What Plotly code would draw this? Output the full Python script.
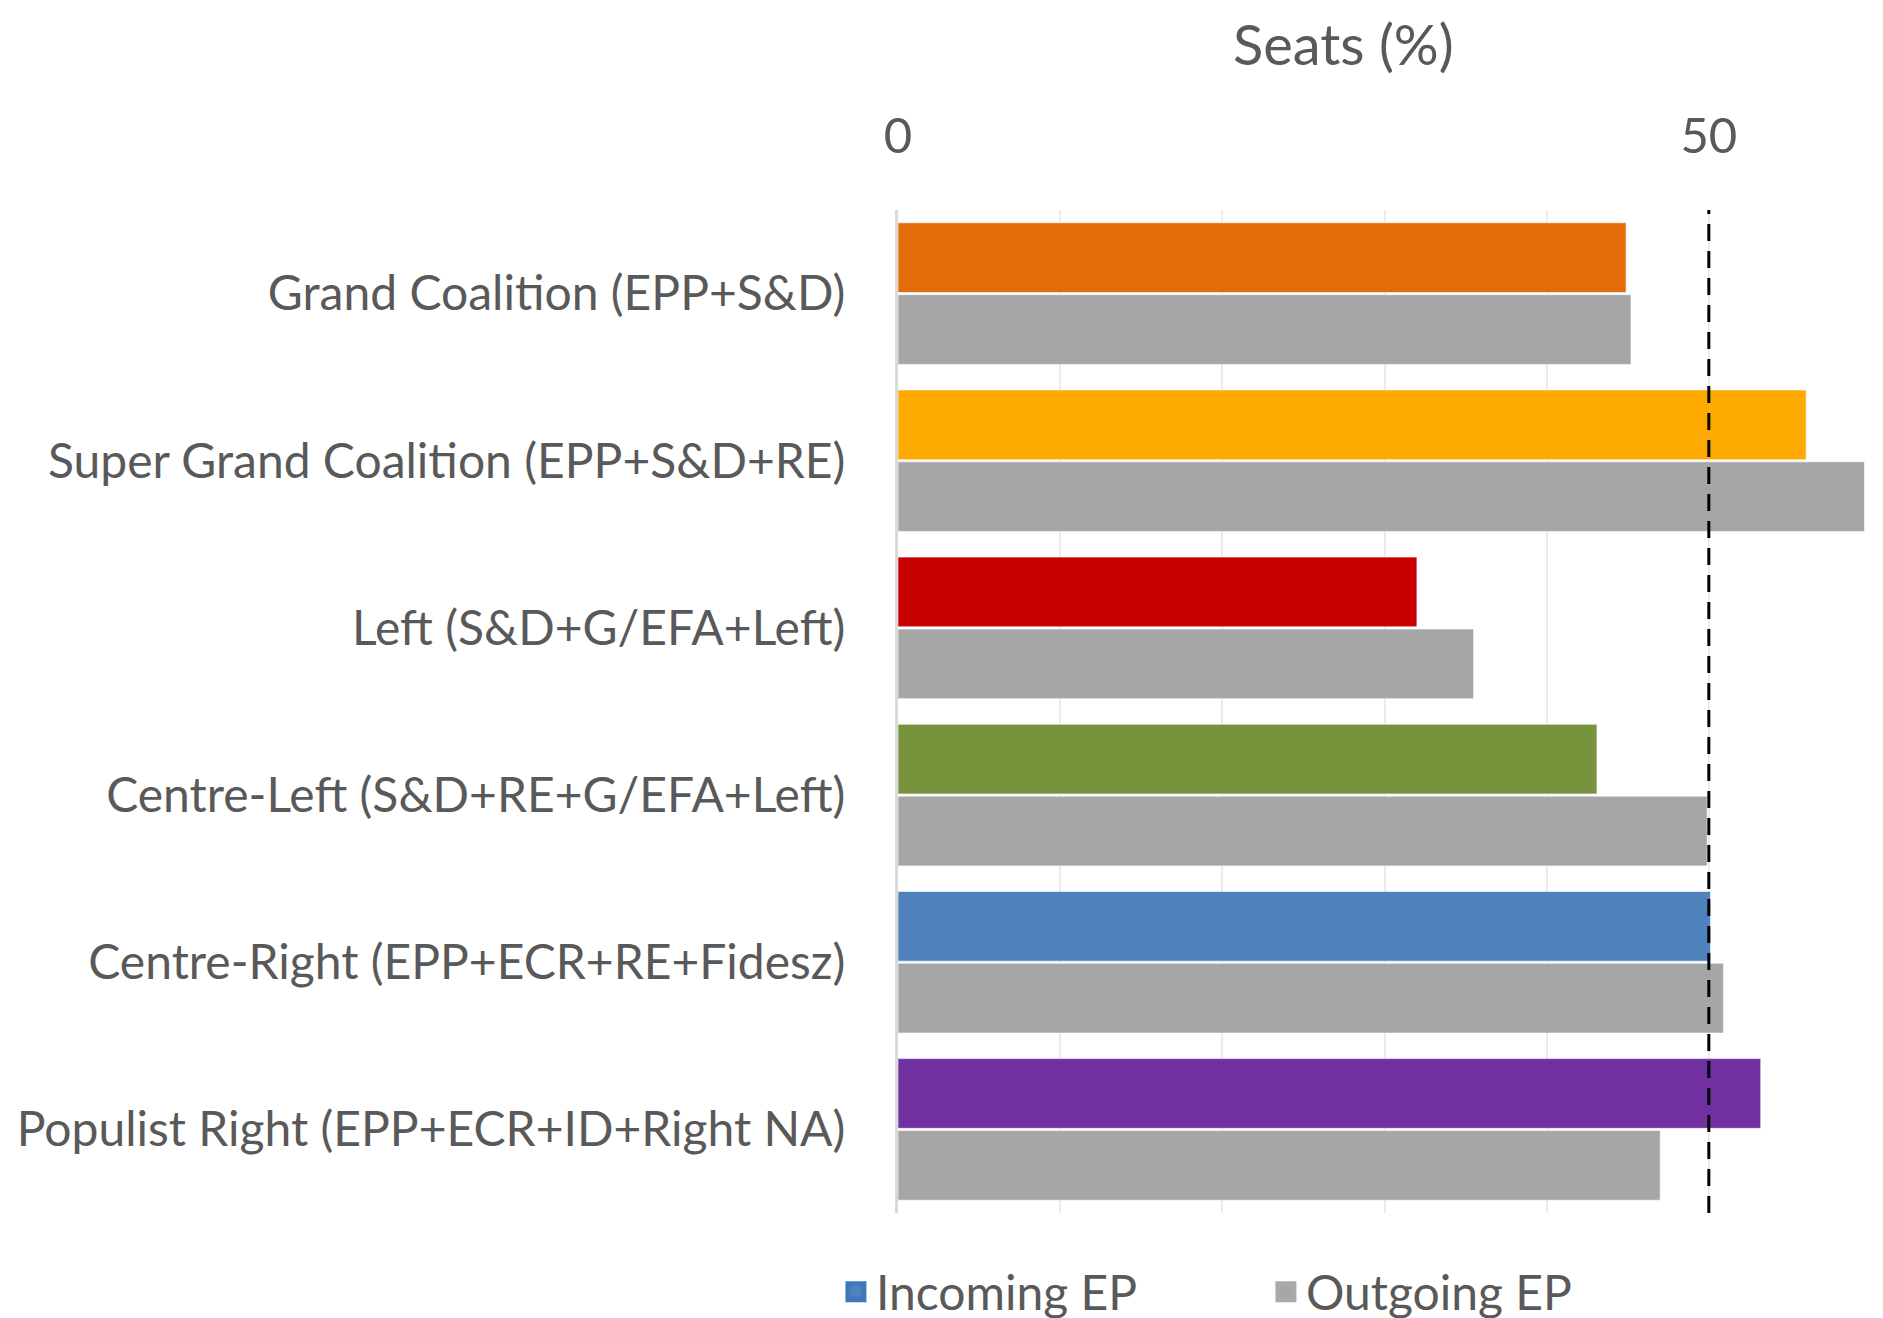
import plotly.graph_objects as go

categories = [
    "Grand Coalition (EPP+S&D)",
    "Super Grand Coalition (EPP+S&D+RE)",
    "Left (S&D+G/EFA+Left)",
    "Centre-Left (S&D+RE+G/EFA+Left)",
    "Centre-Right (EPP+ECR+RE+Fidesz)",
    "Populist Right (EPP+ECR+ID+Right NA)",
]
incoming = [44.9, 56.0, 32.0, 43.1, 50.1, 53.2]
outgoing = [45.2, 59.6, 35.5, 49.9, 50.9, 47.0]
incoming_colors = ["#E36C0A", "#FFAA00", "#C80000", "#77933C", "#4F81BD", "#7030A0"]
outgoing_color = "#A6A6A6"
majority = 50
x_ticks = [0, 50]

FONT = "Lato"
TXT = "#595959"

fig = go.Figure()
fig.add_trace(go.Bar(
    y=categories, x=incoming, orientation="h", name="Incoming EP",
    marker=dict(color=incoming_colors, line=dict(color="rgba(255,255,255,0.6)", width=1)),
    showlegend=False,
))
fig.add_trace(go.Bar(
    y=categories, x=outgoing, orientation="h", name="Outgoing EP",
    marker=dict(color=outgoing_color, line=dict(color="rgba(255,255,255,0.6)", width=1)),
    showlegend=False,
))
# legend entries
fig.add_trace(go.Scatter(
    x=[None], y=[None], mode="markers", name="Incoming EP",
    marker=dict(symbol="square", size=24, color="#4F81BD", line=dict(color="#3F78BA", width=5)),
))
fig.add_trace(go.Scatter(
    x=[None], y=[None], mode="markers", name="Outgoing EP",
    marker=dict(symbol="square", size=24, color=outgoing_color, line=dict(color="#AAAAAA", width=5)),
))

fig.add_shape(type="line", xref="x", yref="paper", x0=majority, x1=majority, y0=0, y1=1,
              line=dict(color="black", width=3, dash="17px,10px"))

fig.add_annotation(text="Seats (%)", xref="paper", yref="paper", x=0.4575, y=1.166,
                   xanchor="center", yanchor="middle", showarrow=False,
                   font=dict(size=56, color=TXT, family=FONT))

fig.update_layout(
    width=1883, height=1318,
    paper_bgcolor="white", plot_bgcolor="white",
    margin=dict(l=890, r=20, t=202, b=113, autoexpand=False),
    barmode="group", bargap=0.14, bargroupgap=0.03,
    font=dict(family=FONT, color=TXT, size=48),
    showlegend=True,
    legend=dict(orientation="h", x=-0.0638, xanchor="left", yref="container",
                y=1 - 1284 / 1318, yanchor="middle",
                font=dict(size=48, color=TXT), entrywidth=385, entrywidthmode="pixels",
                itemsizing="trace"),
    xaxis=dict(
        side="top", range=[0, 60], tickvals=x_ticks, ticktext=[str(v) for v in x_ticks],
        showgrid=True, gridcolor="#EBEBEB", gridwidth=2,
        minor=dict(dtick=10, showgrid=True, gridcolor="#EBEBEB", gridwidth=2),
        zeroline=False, showline=False, automargin=False,
        ticks="", ticklabelstandoff=46,
        tickfont=dict(size=49, color=TXT),
    ),
    yaxis=dict(
        categoryorder="array", categoryarray=categories, autorange="reversed",
        showline=True, linecolor="#D9D9D9", linewidth=3, automargin=False,
        showgrid=False, zeroline=False, ticks="", ticklabelstandoff=40,
        tickfont=dict(size=48, color=TXT),
    ),
)

fig.write_html("out.html")
